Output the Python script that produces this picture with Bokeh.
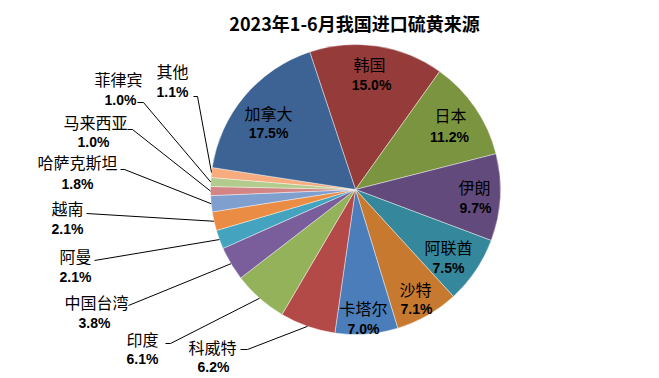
import math
from bokeh.plotting import figure
from bokeh.models import Range1d, ColumnDataSource
from bokeh.core.properties import value
from bokeh.embed import file_html
from bokeh.resources import INLINE

# ---- data ----
title_text = "2023年1-6月我国进口硫黄来源"
countries = ["韩国", "日本", "伊朗", "阿联酋", "沙特", "卡塔尔", "科威特", "印度",
             "中国台湾", "阿曼", "越南", "哈萨克斯坦", "马来西亚", "菲律宾", "其他", "加拿大"]
shares = [15.0, 11.2, 9.7, 7.5, 7.1, 7.0, 6.2, 6.1, 3.8, 2.1, 2.1, 1.8, 1.0, 1.0, 1.1, 17.5]
colors = ["#953B3A", "#7A943F", "#624B7C", "#35879C", "#C7792F", "#4A7DB9", "#B44A48",
          "#93B25A", "#7A5E9C", "#44A3BE", "#EA8C44", "#7F9FCF", "#D28584", "#B3CB8C",
          "#F6AC7E", "#3C6393"]

# ---- layout (image pixel coordinates) ----
W, H = 651, 374
CX, CY, R = 355, 189, 145
START_DEG = 108.4

def Y(iy):
    return H - iy

p = figure(width=W, height=H, x_range=Range1d(0, W), y_range=Range1d(0, H),
           output_backend="svg", toolbar_location=None, min_border=0,
           outline_line_color=None, background_fill_color="white")
p.axis.visible = False
p.grid.visible = False

total = sum(shares)
k = 360.0 / total
starts, ends, mids = [], [], []
cum = 0.0
for s in shares:
    a0 = START_DEG - cum * k
    cum += s
    a1 = START_DEG - cum * k
    starts.append(math.radians(a0))
    ends.append(math.radians(a1))
    mids.append(math.radians((a0 + a1) / 2))

src = ColumnDataSource(dict(start=starts, end=ends, color=colors))
p.wedge(x=CX, y=Y(CY), radius=R, start_angle="start", end_angle="end",
        direction="clock", fill_color="color", line_color="white",
        line_width=0.6, line_alpha=0.7, source=src)

# label positions: (name center, pct center), in image pixels
label_pos = {
    "韩国": ((369, 63), (371, 84)),
    "日本": ((450, 114), (449, 136)),
    "伊朗": ((474, 186), (475, 207)),
    "阿联酋": ((448, 246), (448, 267)),
    "沙特": ((415, 288), (416, 308)),
    "卡塔尔": ((363, 307), (363, 328)),
    "科威特": ((212, 346), (213, 366)),
    "印度": ((142, 338), (142, 358)),
    "中国台湾": ((96, 301), (94, 322)),
    "阿曼": ((75, 255), (75, 276)),
    "越南": ((67, 207), (67, 228)),
    "哈萨克斯坦": ((77, 161), (77, 183)),
    "马来西亚": ((95, 121), (93, 141)),
    "菲律宾": ((118, 78), (120, 99)),
    "其他": ((172, 70), (172, 91)),
    "加拿大": ((268, 112), (268, 132)),
}
# leader line starts (image pixels): list of points before the slice edge
leaders = {
    "科威特": [(240, 349), (247, 349)],
    "印度": [(165, 343), (170, 343)],
    "中国台湾": [(128, 305)],
    "阿曼": [(94, 260)],
    "越南": [(86, 213)],
    "哈萨克斯坦": [(120, 169), (124, 169)],
    "马来西亚": [(127, 129), (132, 129)],
    "菲律宾": [(137, 102), (143, 102)],
    "其他": [(193, 96), (197, 96)],
}

xs, ys = [], []
for i, c in enumerate(countries):
    if c in leaders:
        pts = leaders[c]
        ex = CX + R * math.cos(mids[i])
        ey = Y(CY) + R * math.sin(mids[i])
        xs.append([pt[0] for pt in pts] + [ex])
        ys.append([Y(pt[1]) for pt in pts] + [ey])
p.multi_line(xs=xs, ys=ys, line_color="black", line_width=1)

nx, ny, px, py, nm, pc = [], [], [], [], [], []
for i, c in enumerate(countries):
    (a, b), (cpx, cpy) = label_pos[c]
    nx.append(a); ny.append(Y(b)); nm.append(c)
    px.append(cpx); py.append(Y(cpy)); pc.append(f"{shares[i]:.1f}%")

p.text(x=nx, y=ny, text=nm, text_align="center", text_baseline="middle",
       text_font=value("Noto Sans CJK SC"), text_font_size="16px", text_color="black")
p.text(x=px, y=py, text=pc, text_align="center", text_baseline="middle",
       text_font=value("Liberation Sans"), text_font_style="bold",
       text_font_size="14px", text_color="black")

p.text(x=[354], y=[Y(22)], text=[title_text], text_align="center", text_baseline="middle",
       text_font=value("Noto Sans CJK SC"), text_font_style="bold",
       text_font_size="18px", text_color="black")

open("out.html", "w").write(file_html(p, INLINE))
